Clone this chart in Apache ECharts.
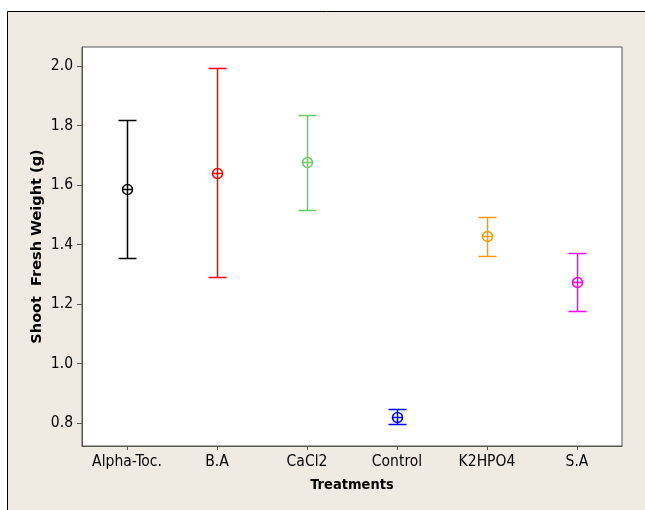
<!DOCTYPE html>
<html>
<head>
<meta charset="utf-8">
<script src="https://cdn.jsdelivr.net/npm/echarts@6/dist/echarts.min.js"></script>
<style>
html,body{margin:0;padding:0;background:#fff;}
#c{width:645px;height:510px;}
</style>
</head>
<body>
<div id="c"></div>
<script>
var categories = ['Alpha-Toc.', 'B.A', 'CaCl2', 'Control', 'K2HPO4', 'S.A'];
var means  = [1.587, 1.641, 1.676, 0.821, 1.429, 1.275];
var lowers = [1.356, 1.291, 1.515, 0.797, 1.361, 1.176];
var uppers = [1.819, 1.992, 1.836, 0.846, 1.493, 1.371];
var yTicks = [0.8, 1.0, 1.2, 1.4, 1.6, 1.8, 2.0];
var palette = ['#000000', '#FF0000', '#66CC66', '#0000FF', '#FF9900', '#FF00FF'];

var data = categories.map(function (c, i) { return [i, means[i], lowers[i], uppers[i]]; });
var FONT = '"DejaVu Sans Condensed", "DejaVu Sans", sans-serif';

var chart = echarts.init(document.getElementById('c'), null, {renderer: 'canvas'});
chart.setOption({
  animation: false,
  backgroundColor: '#ffffff',
  graphic: [
    {type: 'rect', z: -10, silent: true, shape: {x: 7.5, y: 11.5, width: 700, height: 600},
     style: {fill: '#EFEBE2', stroke: '#000', lineWidth: 1}}
  ],
  grid: {left: 82, top: 47, right: 23, bottom: 64, show: true, backgroundColor: '#fff',
         borderColor: '#555', borderWidth: 1, containLabel: false},
  xAxis: {
    type: 'category', data: categories, boundaryGap: true,
    name: 'Treatments', nameLocation: 'middle', nameGap: 32,
    nameTextStyle: {fontFamily: FONT, fontWeight: 'bold', fontSize: 14.5, color: '#000'},
    axisLine: {show: true, lineStyle: {color: '#555'}},
    axisTick: {show: true, alignWithLabel: true, interval: 0, length: 4, lineStyle: {color: '#555'}},
    axisLabel: {fontFamily: FONT, fontSize: 15.5, color: '#000', margin: 8, interval: 0, hideOverlap: false},
    splitLine: {show: false}
  },
  yAxis: {
    type: 'value', min: 0.723, max: 2.064,
    name: 'Shoot  Fresh Weight (g)', nameLocation: 'middle', nameGap: 37, nameRotate: 90,
    nameMoveOverlap: false,
    nameTextStyle: {fontFamily: '"DejaVu Sans", sans-serif', fontWeight: 'bold', fontSize: 14.5, color: '#000'},
    axisLine: {show: true, lineStyle: {color: '#555'}},
    axisTick: {show: true, length: 5, customValues: yTicks, lineStyle: {color: '#555'}},
    axisLabel: {fontFamily: FONT, fontSize: 15.5, color: '#000', margin: 9, customValues: yTicks,
                formatter: function (v) { return Number(v).toFixed(1); }},
    splitLine: {show: false}
  },
  series: [{
    type: 'custom',
    data: data,
    encode: {x: 0, y: [1, 2, 3]},
    renderItem: function (params, api) {
      var i = api.value(0);
      var m = api.coord([i, api.value(1)]);
      var lo = api.coord([i, api.value(2)]);
      var hi = api.coord([i, api.value(3)]);
      var col = palette[params.dataIndex];
      var x = Math.round(m[0]) + 0.5;
      var hw = 9, r = 5;
      var hy = Math.round(hi[1]) + 0.5, ly = Math.round(lo[1]) + 0.5, my = Math.round(m[1]) + 0.5;
      function st() { return {stroke: col, lineWidth: 1.5, fill: 'none'}; }
      return {
        type: 'group',
        children: [
          {type: 'line', shape: {x1: x, y1: hy, x2: x, y2: ly}, style: st()},
          {type: 'line', shape: {x1: x - hw, y1: hy, x2: x + hw, y2: hy}, style: st()},
          {type: 'line', shape: {x1: x - hw, y1: ly, x2: x + hw, y2: ly}, style: st()},
          {type: 'circle', shape: {cx: x, cy: my, r: r}, style: st()},
          {type: 'line', shape: {x1: x - r, y1: my, x2: x + r, y2: my}, style: st()}
        ]
      };
    }
  }]
});
</script>
</body>
</html>
